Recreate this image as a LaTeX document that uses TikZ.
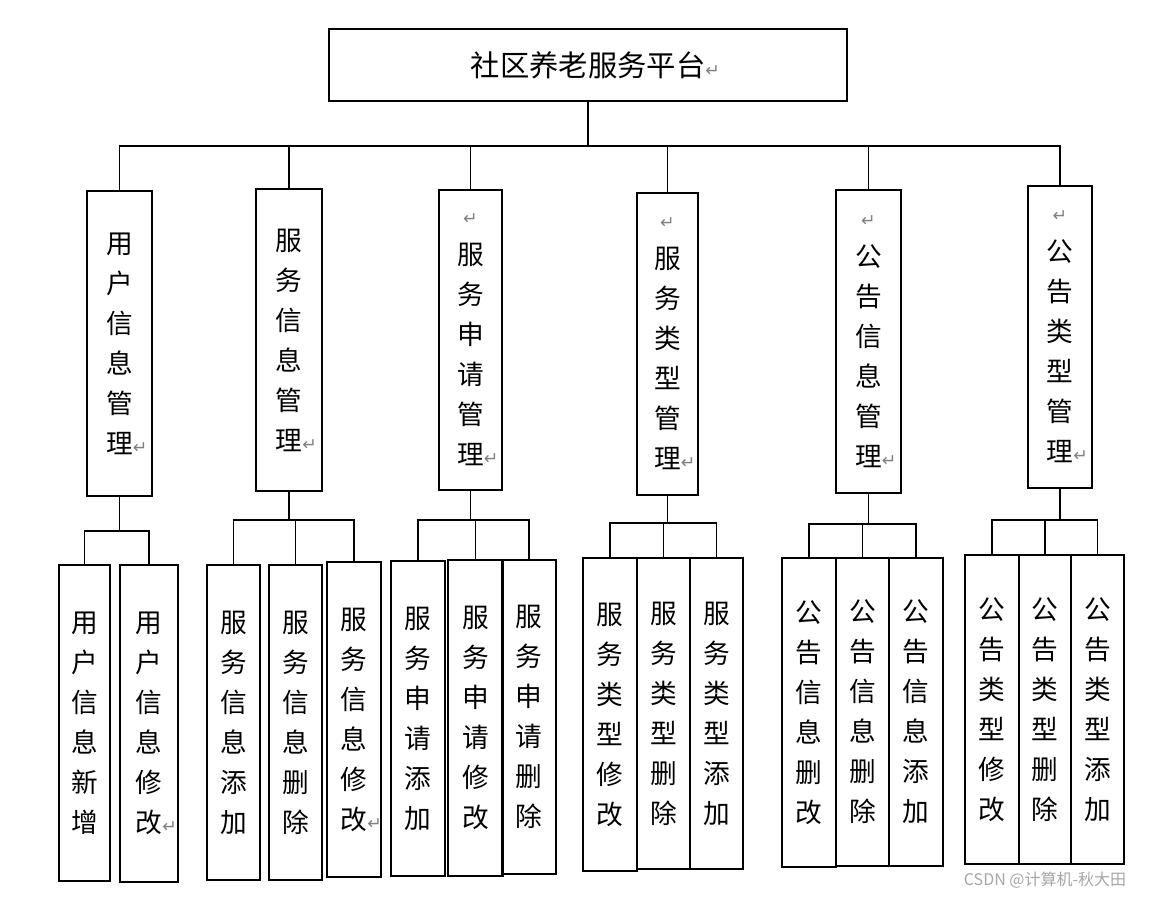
\documentclass[tikz,border=0pt]{standalone}
\usepackage{fontspec}
\setmainfont{Noto Sans CJK SC}
\newfontfamily\symfont{DejaVu Sans}
\usetikzlibrary{positioning, calc}
\newcommand{\ret}{\rlap{\symfont\color{gray}\fontsize{13}{13}\selectfont ↵}}
\newcommand{\retline}{{\symfont\color{gray}\fontsize{13}{13}\selectfont ↵}}
\tikzset{box/.style n args={2}{draw, line width=1.2pt, inner sep=0pt, align=center,
  minimum width=#1*0.75pt, minimum height=#2*0.75pt,
  font=\fontsize{20}{30}\selectfont}}
\tikzset{link/.style={line width=1.2pt}}
\begin{document}
\begin{tikzpicture}[x=0.75pt, y=-0.75pt]
  \useasboundingbox (0,0) rectangle (1165,901);
  \node[box={518}{72}, font=\fontsize{22}{26}\selectfont] (root) at (588,65) {社区养老服务平台\ret};
  \coordinate (bus) at (588,146);
  % second level
  \node[box={65}{305}] (n1) at (119.5,343.5) {用\\户\\信\\息\\管\\理\ret};
  \node[box={66}{302}] (n2) at (289,340) {服\\务\\信\\息\\管\\理\ret};
  \node[box={63}{300}] (n3) at (470.5,340) {\retline\\服\\务\\申\\请\\管\\理\ret};
  \node[box={61}{302}] (n4) at (667.5,344) {\retline\\服\\务\\类\\型\\管\\理\ret};
  \node[box={65}{303}] (n5) at (868.5,341.5) {\retline\\公\\告\\信\\息\\管\\理\ret};
  \node[box={64}{302}] (n6) at (1060,337) {\retline\\公\\告\\类\\型\\管\\理\ret};
  \draw[link] (root.south) -- (bus);
  \draw[link] (n1.north) |- (bus) -| (n6.north);
  \draw[link] (n2.north) -- (n2.north |- bus);
  \draw[link] (n3.north) -- (n3.north |- bus);
  \draw[link] (n4.north) -- (n4.north |- bus);
  \draw[link] (n5.north) -- (n5.north |- bus);
  % leaves
  \node[box={51}{316}] (l11) at (84.5,723) {用\\户\\信\\息\\新\\增};
  \node[box={58}{317}] (l12) at (149,723.5) {用\\户\\信\\息\\修\\改\ret};
  \node[box={53}{315}] (l21) at (233.5,722.5) {服\\务\\信\\息\\添\\加};
  \node[box={53}{315}] (l22) at (295.5,722.5) {服\\务\\信\\息\\删\\除};
  \node[box={54}{315}] (l23) at (354,719.5) {服\\务\\信\\息\\修\\改\ret};
  \node[box={54}{315}] (l31) at (418,718.5) {服\\务\\申\\请\\添\\加};
  \node[box={55}{316}] (l32) at (475.5,718) {服\\务\\申\\请\\修\\改};
  \node[box={54}{314}] (l33) at (529,717) {服\\务\\申\\请\\删\\除};
  \node[box={54}{313}] (l41) at (610,714.5) {服\\务\\类\\型\\修\\改};
  \node[box={53}{311}] (l42) at (663.5,713.5) {服\\务\\类\\型\\删\\除};
  \node[box={53}{311}] (l43) at (716.5,713.5) {服\\务\\类\\型\\添\\加};
  \node[box={54}{309}] (l51) at (809,712.5) {公\\告\\信\\息\\删\\改};
  \node[box={53}{308}] (l52) at (862.5,712) {公\\告\\信\\息\\删\\除};
  \node[box={54}{308}] (l53) at (916,712) {公\\告\\信\\息\\添\\加};
  \node[box={54}{309}] (l61) at (992,709.5) {公\\告\\类\\型\\修\\改};
  \node[box={52}{309}] (l62) at (1045,709.5) {公\\告\\类\\型\\删\\除};
  \node[box={53}{309}] (l63) at (1097.5,709.5) {公\\告\\类\\型\\添\\加};
  \coordinate (h1) at (119.5,531);
  \coordinate (h2) at (289,520);
  \coordinate (h3) at (470.5,520);
  \coordinate (h4) at (667.5,523);
  \coordinate (h5) at (868.5,524);
  \coordinate (h6) at (1060,520);
  \draw[link] (n1.south) -- (h1);
  \draw[link] (l11.north) |- (h1) -| (l12.north);
  \foreach \g in {2,...,6} {
    \draw[link] (n\g.south) -- (h\g);
    \draw[link] (l\g1.north) |- (h\g) -| (l\g3.north);
    \draw[link] (l\g2.north) -- (l\g2.north |- h\g);
  }
  \node[text=gray!70, font=\fontsize{12}{12}\selectfont] (mark) at (1045,880) {CSDN @计算机-秋大田};
\end{tikzpicture}
\end{document}
